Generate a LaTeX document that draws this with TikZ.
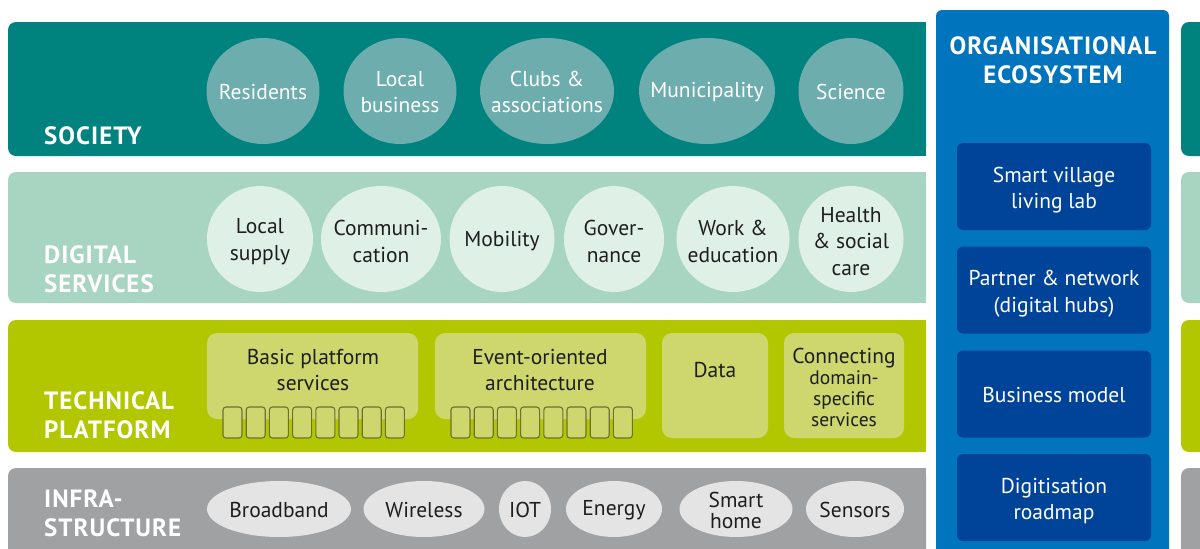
\documentclass[tikz,border=0pt]{standalone}
\usepackage{fontspec}
\setmainfont{PT Sans}
\newfontfamily\bandfont[LetterSpace=4]{PT Sans}
\usetikzlibrary{shapes.geometric}
\definecolor{socband}{HTML}{00827F}
\definecolor{socdot}{HTML}{6DADAE}
\definecolor{digband}{HTML}{A8D5C2}
\definecolor{digdot}{HTML}{DFF0E7}
\definecolor{tecband}{HTML}{B2C700}
\definecolor{tecbox}{HTML}{CDD76D}
\definecolor{slotline}{HTML}{6E7030}
\definecolor{infband}{HTML}{A0A1A3}
\definecolor{infdot}{HTML}{E3E4E3}
\definecolor{orgblue}{HTML}{0074BD}
\definecolor{orgdark}{HTML}{00449A}
\definecolor{ink}{HTML}{1E1E1E}

\begin{document}
\begin{tikzpicture}[x=1pt,y=-1pt,
    dot/.style={ellipse,inner sep=0pt,minimum height=106},
    txt/.style={inner sep=0pt,align=center,font=\fontsize{21.5}{26.5}\selectfont},
    bandlabel/.style={anchor=west,inner sep=0pt,align=left,text=white,
      font=\bandfont\bfseries\fontsize{25}{29}\selectfont},
    tile/.style={fill=tecbox,rounded corners=10pt,inner sep=0pt},
    slot/.style={draw=slotline,fill=tecbox,line width=1.1pt,rounded corners=3pt,
      minimum width=19,minimum height=31,inner sep=0pt},
    orgbox/.style={fill=orgdark,rounded corners=6pt,minimum width=194,minimum height=87,
      inner sep=0pt}]
  \clip (0,0) rectangle (1200,549);

  % layers
  \foreach \ya/\yb/\c in {22/156/socband,172/303/digband,320/452/tecband,468/580/infband} {
    \fill[\c,rounded corners=8pt] (8,\ya) rectangle (926,\yb);
    \fill[\c] (880,\ya) rectangle (926,\yb);
    \fill[\c,rounded corners=8pt] (1181,\ya) rectangle (1240,\yb);
  }

  \node[bandlabel] (society) at (44,135.5) {SOCIETY};
  \node[bandlabel] (digital) at (44,269.5) {DIGITAL\\SERVICES};
  \node[bandlabel] (technical) at (44,415) {TECHNICAL\\PLATFORM};
  \node[bandlabel] (infra) at (44,513.5) {INFRA-\\STRUCTURE};

  % society
  \foreach \n/\x/\w/\t in {res/263/113/Residents, bus/400/113/{Local\\business},
      clu/547/134/{Clubs \&\\associations}, mun/707/136/Municipality, sci/851/105/Science} {
    \node[dot,fill=socdot,minimum width=\w] (\n) at (\x,91) {};
    \node[txt,text=white] (\n-t) at (\x,92) {\t};
  }

  % digital services
  \foreach \n/\x/\w/\t in {sup/260/106/{Local\\supply}, com/381/120/{Communi-\\cation},
      mob/502/105/Mobility, gov/614/100/{Gover-\\nance}, wor/733/113/{Work \&\\education},
      hea/851/105/{Health\\\& social\\care}} {
    \node[dot,fill=digdot,minimum width=\w] (\n) at (\x,239) {};
    \node[txt,text=ink] (\n-t) at (\x,241.5) {\t};
  }

  % technical platform
  \node[tile,minimum width=211,minimum height=86] (basic) at (312.5,376) {};
  \node[tile,minimum width=211,minimum height=86] (event) at (540.5,376) {};
  \node[tile,minimum width=106,minimum height=105] (data) at (715,385.5) {};
  \node[tile,minimum width=120,minimum height=105] (conn) at (844,385.5) {};
  \node[txt,text=ink] (basic-t) at (313,370) {Basic platform\\services};
  \node[txt,text=ink] (event-t) at (540,370) {Event-oriented\\architecture};
  \node[txt,text=ink] (data-t) at (715,370) {Data};
  \node[txt,text=ink,font=\fontsize{19.5}{21}\selectfont] (conn-t) at (844,387)
    {{\fontsize{21.5}{21}\selectfont Connecting}\\domain-\\specific\\services};
  \foreach \i in {0,...,7} {
    \node[slot] (bs\i) at (232.5+23.2*\i,422.5) {};
    \node[slot] (es\i) at (460.5+23.2*\i,422.5) {};
  }

  % infrastructure
  \foreach \n/\x/\w/\t in {bro/279/144/Broadband, wir/424/121/Wireless, iot/525/52/IOT,
      ene/614/96/Energy, sen/855/98/Sensors} {
    \node[dot,fill=infdot,minimum width=\w,minimum height=56] (\n) at (\x,509) {};
    \node[txt,text=ink] (\n-t) at (\x,510) {\t};
  }
  \node[dot,fill=infdot,minimum width=113,minimum height=56] (sma) at (736,509) {};
  \node[txt,text=ink,font=\fontsize{21.5}{21}\selectfont] (sma-t) at (736,510) {Smart\\home};

  % organisational ecosystem
  \fill[orgblue,rounded corners=6pt] (936,10) rectangle (1169,600);
  \node[inner sep=0pt,align=center,text=white,font=\bandfont\bfseries\fontsize{25}{29}\selectfont]
    (org) at (1053,60) {ORGANISATIONAL\\ECOSYSTEM};
  \node[orgbox] (lab) at (1054,186.5) {};
  \node[orgbox] (hub) at (1054,290) {};
  \node[orgbox] (model) at (1054,394) {};
  \node[orgbox] (road) at (1054,497.5) {};
  \node[txt,text=white] (lab-t) at (1054,190) {Smart village\\living lab};
  \node[txt,text=white] (hub-t) at (1054,293.5) {Partner \& network\\(digital hubs)};
  \node[txt,text=white] (model-t) at (1054,395) {Business model};
  \node[txt,text=white] (road-t) at (1054,501) {Digitisation\\roadmap};
\end{tikzpicture}
\end{document}
